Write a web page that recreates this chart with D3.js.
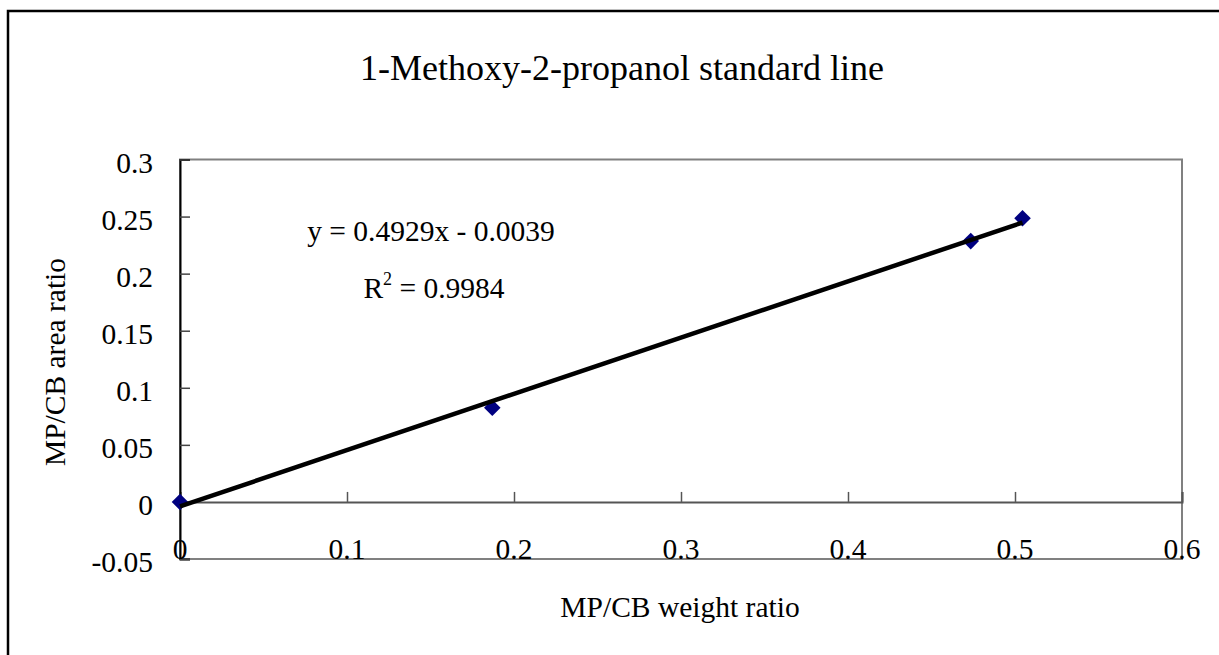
<!DOCTYPE html>
<html>
<head>
<meta charset="utf-8">
<script src="https://cdn.jsdelivr.net/npm/d3@7"></script>
<style>
  body { margin: 0; background: #fff; }
</style>
</head>
<body>
<div id="chart"></div>
<script>
var width = 1219, height = 655;

// data
var weightRatio = [0, 0.187, 0.4735, 0.5045];
var areaRatio   = [0, 0.0825, 0.2285, 0.2485];
var slope = 0.4929, intercept = -0.0039;
var xTicks = [0, 0.1, 0.2, 0.3, 0.4, 0.5, 0.6];
var yTicks = [-0.05, 0, 0.05, 0.1, 0.15, 0.2, 0.25, 0.3];

var plot = { left: 180, top: 159.5, right: 1182, bottom: 559 };
var serif = "'Liberation Serif', 'DejaVu Serif', serif";

var svg = d3.select("#chart").append("svg")
    .attr("width", width)
    .attr("height", height)
    .attr("font-family", serif);

// outer chart border (runs off the right and bottom edge)
svg.append("rect")
    .attr("x", 8).attr("y", 11)
    .attr("width", 1240).attr("height", 700)
    .attr("fill", "none")
    .attr("stroke", "#000")
    .attr("stroke-width", 2.5);

var xScale = d3.scaleLinear().domain([0, 0.6]).range([plot.left, plot.right]);
var yScale = d3.scaleLinear().domain([-0.05, 0.3]).range([plot.bottom, plot.top]);

// plot area frame (gray)
svg.append("rect")
    .attr("x", plot.left).attr("y", plot.top)
    .attr("width", plot.right - plot.left)
    .attr("height", plot.bottom - plot.top)
    .attr("fill", "none")
    .attr("stroke", "#808080")
    .attr("stroke-width", 2);

// x axis at y = 0, ticks pointing up
var xAxis = svg.append("g")
    .attr("transform", "translate(0," + yScale(0) + ")")
    .call(d3.axisTop(xScale).tickValues(xTicks).tickSize(10).tickFormat(""));
xAxis.select(".domain").attr("stroke", "#555").attr("stroke-width", 2);
xAxis.selectAll(".tick line").attr("stroke", "#555").attr("stroke-width", 1.5);

// y axis, ticks pointing into the plot
var yAxis = svg.append("g")
    .attr("transform", "translate(" + plot.left + ",0)")
    .call(d3.axisRight(yScale).tickValues(yTicks).tickSize(10).tickFormat(""));
yAxis.select(".domain").attr("stroke", "#000").attr("stroke-width", 2);
yAxis.selectAll(".tick line").attr("stroke", "#444").attr("stroke-width", 1.5);

var labelSize = 29.5;

// tick labels
svg.append("g").selectAll("text")
  .data(xTicks)
  .enter().append("text")
    .attr("x", function(d) { return xScale(d); })
    .attr("y", plot.bottom)
    .attr("text-anchor", "middle")
    .attr("font-size", labelSize)
    .text(function(d) { return String(d); });

svg.append("g").selectAll("text")
  .data(yTicks)
  .enter().append("text")
    .attr("x", 153)
    .attr("y", function(d) { return yScale(d) + 3; })
    .attr("dy", "0.35em")
    .attr("text-anchor", "end")
    .attr("font-size", labelSize)
    .text(function(d) { return String(d); });

// markers
var points = weightRatio.map(function(x, i) { return [x, areaRatio[i]]; });
svg.append("g").selectAll("path")
  .data(points)
  .enter().append("path")
    .attr("d", d3.symbol().type(d3.symbolDiamond2).size(175))
    .attr("transform", function(d) {
      return "translate(" + xScale(d[0]) + "," + yScale(d[1]) + ")";
    })
    .attr("fill", "#000080");

// linear trendline
var xMax = d3.max(weightRatio);
var line = d3.line()
    .x(function(d) { return xScale(d); })
    .y(function(d) { return yScale(slope * d + intercept); });
svg.append("path")
    .datum([0, xMax])
    .attr("d", line)
    .attr("fill", "none")
    .attr("stroke", "#000")
    .attr("stroke-width", 4.5);

// trendline label
svg.append("text")
    .attr("x", 431).attr("y", 241)
    .attr("text-anchor", "middle")
    .attr("font-size", labelSize)
    .text("y = 0.4929x - 0.0039");

var r2 = svg.append("text")
    .attr("x", 434).attr("y", 298)
    .attr("text-anchor", "middle")
    .attr("font-size", labelSize);
r2.append("tspan").text("R");
r2.append("tspan").attr("dy", -13).attr("font-size", 18).text("2");
r2.append("tspan").attr("dy", 13).text(" = 0.9984");

// titles
svg.append("text")
    .attr("x", 622).attr("y", 80)
    .attr("text-anchor", "middle")
    .attr("font-size", 36)
    .text("1-Methoxy-2-propanol standard line");

svg.append("text")
    .attr("x", 680).attr("y", 617)
    .attr("text-anchor", "middle")
    .attr("font-size", labelSize)
    .text("MP/CB weight ratio");

svg.append("text")
    .attr("transform", "translate(65,362) rotate(-90)")
    .attr("text-anchor", "middle")
    .attr("font-size", labelSize)
    .text("MP/CB area ratio");
</script>
</body>
</html>
